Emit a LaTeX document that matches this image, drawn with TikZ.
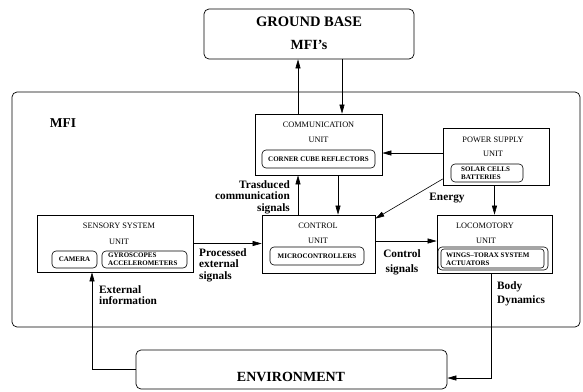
\documentclass[tikz,border=0pt]{standalone}
\usepackage{fontspec}
\setmainfont{Liberation Serif}
\usetikzlibrary{arrows.meta}
\tikzset{
  box/.style={draw, line width=0.7pt, inner sep=0pt},
  rbox/.style={box, rounded corners=5pt},
  ibox/.style={draw, line width=0.6pt, rounded corners=4pt, inner sep=0pt, font=\bfseries\fontsize{7}{8}\selectfont},
  utxt/.style={inner sep=0pt, font=\fontsize{8.3}{9}\selectfont},
  lbl/.style={inner sep=0pt, font=\bfseries\fontsize{11.3}{11.5}\selectfont},
  arr/.style={line width=0.6pt, -{Triangle[length=9pt,width=5pt]}},
  ln/.style={line width=0.6pt}
}
\begin{document}
\begin{tikzpicture}[x=1pt,y=-1pt]
\useasboundingbox (0,0) rectangle (583,391);
% big boxes
\node[rbox, minimum width=210, minimum height=50] (gb) at (309,34) {};
\node[inner sep=0pt, font=\bfseries\fontsize{14.5}{15}\selectfont] (gbt) at (309,22) {GROUND BASE};
\node[inner sep=0pt, font=\bfseries\fontsize{14}{15}\selectfont] (gbm) at (309,45) {MFI’s};
\node[rbox, minimum width=568, minimum height=235] (mfi) at (296,209.5) {};
\node[inner sep=0pt, font=\bfseries\fontsize{13.5}{14}\selectfont] (mfit) at (63,123) {MFI};
\node[rbox, minimum width=311, minimum height=39] (env) at (291.5,369.5) {};
\node[inner sep=0pt, font=\bfseries\fontsize{14}{15}\selectfont] (envt) at (291,377) {ENVIRONMENT};
% units
\node[box, minimum width=127, minimum height=61] (comm) at (318.5,144.5) {};
\node[utxt] (commt) at (318.5,125) {COMMUNICATION};
\node[utxt] (commu) at (318.5,140) {UNIT};
\node[ibox, minimum width=113, minimum height=18] (ccr) at (318.5,159) {CORNER CUBE REFLECTORS};

\node[box, minimum width=106, minimum height=57] (power) at (496,156.5) {};
\node[utxt] (powert) at (493,140) {POWER SUPPLY};
\node[utxt] (poweru) at (493,154) {UNIT};
\node[ibox, minimum width=72, minimum height=18] (solar) at (487,173) {};
\node[inner sep=0pt, anchor=west, align=left, font=\bfseries\fontsize{7}{8}\selectfont] (solart) at (461,173) {SOLAR CELLS\\BATTERIES};

\node[box, minimum width=156, minimum height=57] (sens) at (115,243.5) {};
\node[utxt] (senst) at (119,226) {SENSORY SYSTEM};
\node[utxt] (sensu) at (119,242) {UNIT};
\node[ibox, minimum width=45, minimum height=17] (cam) at (74.5,259.5) {CAMERA};
\node[ibox, minimum width=85, minimum height=17] (gyro) at (144.5,259.5) {};
\node[inner sep=0pt, anchor=west, align=left, font=\bfseries\fontsize{7}{8}\selectfont] (gyrot) at (108,259.5) {GYROSCOPES\\ACCELEROMETERS};

\node[box, minimum width=113, minimum height=58] (ctrl) at (318.5,244) {};
\node[utxt] (ctrlt) at (318,226) {CONTROL};
\node[utxt] (ctrlu) at (318,241) {UNIT};
\node[ibox, minimum width=94, minimum height=18] (micro) at (317,256) {MICROCONTROLLERS};

\node[box, minimum width=115, minimum height=58] (loco) at (494.5,244) {};
\node[utxt] (locot) at (485,226) {LOCOMOTORY};
\node[utxt] (locou) at (486,241) {UNIT};
\node[ibox, minimum width=110, minimum height=23] (wings) at (493,258.5) {};
\node[ibox, rounded corners=3pt, minimum width=103, minimum height=19] (wingsi) at (492.5,258.5) {};
\node[inner sep=0pt, anchor=west, align=left, font=\bfseries\fontsize{7}{8}\selectfont] (wingst) at (446,259.5) {WINGS–TORAX SYSTEM\\ACTUATORS};

% labels
\node[lbl, anchor=east, align=right] (trl) at (290,197) {Trasduced\\communication\\signals};
\node[lbl, anchor=west, align=left] (prl) at (199,265) {Processed\\external\\signals};
\node[lbl] (enl) at (447,198) {Energy};
\node[lbl, align=center, font=\bfseries\fontsize{11.3}{15}\selectfont] (csl) at (402,262) {Control\\signals};
\node[lbl, anchor=west, align=left, font=\bfseries\fontsize{11.3}{10.5}\selectfont] (eil) at (99,295) {External\\information};
\node[lbl, anchor=west, align=left, font=\bfseries\fontsize{11.3}{14}\selectfont] (bdl) at (497,294) {Body\\Dynamics};

% connectors
\draw[arr] ([xshift=-20.5pt]comm.north) -- ([xshift=-20.5pt]comm.north |- gb.south);
\draw[arr] ([xshift=23.5pt]comm.north |- gb.south) -- ([xshift=23.5pt]comm.north);
\draw[arr] ([xshift=-20.5pt]ctrl.north) -- ([xshift=-20.5pt]ctrl.north |- comm.south);
\draw[arr] ([xshift=19.5pt]comm.south) -- ([xshift=19.5pt]comm.south |- ctrl.north);
\draw[arr] ([yshift=3.5pt]power.west) -- ([yshift=3.5pt]power.west -| comm.east);
\draw[arr] ([yshift=-22.5pt]power.west) -- ([yshift=-4pt]ctrl.north east);
\draw[arr] (power.south -| loco.north) -- (loco.north);
\draw[arr] (sens.east) -- (sens.east -| ctrl.west);
\draw[arr] ([yshift=3pt]ctrl.east) -- ([yshift=3pt]ctrl.east -| loco.west);
\draw[arr] (env.west) -| ([xshift=-23pt]sens.south);
\draw[arr] ([xshift=-3.5pt]loco.south) |- ([yshift=-8.5pt]env.east);
\end{tikzpicture}
\end{document}
